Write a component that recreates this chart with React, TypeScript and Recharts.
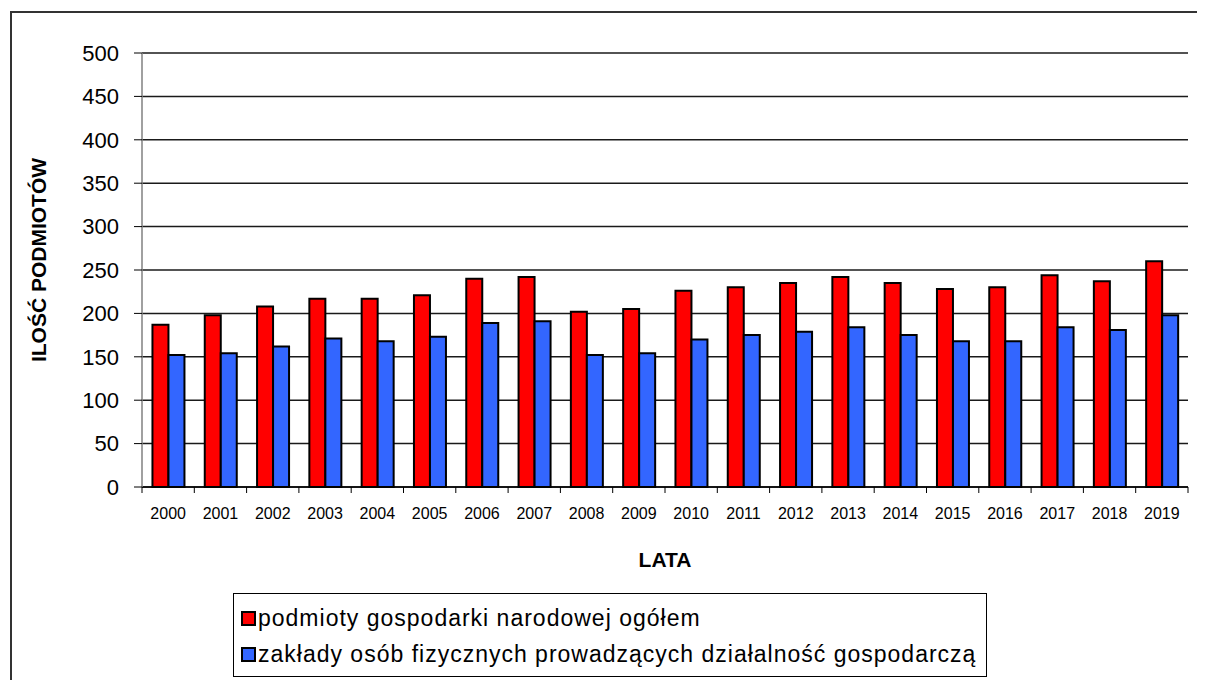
import React from 'react';
import { BarChart, Bar, XAxis, YAxis, CartesianGrid, Legend } from 'recharts';

const years = ['2000', '2001', '2002', '2003', '2004', '2005', '2006', '2007', '2008', '2009',
    '2010', '2011', '2012', '2013', '2014', '2015', '2016', '2017', '2018', '2019'];
const podmioty = [187, 198, 208, 217, 217, 221, 240, 242, 202, 205, 226, 230, 235, 242, 235, 228, 230, 244, 237, 260];
const zaklady = [152, 154, 162, 171, 168, 173, 189, 191, 152, 154, 170, 175, 179, 184, 175, 168, 168, 184, 181, 198];
const yTicks = [0, 50, 100, 150, 200, 250, 300, 350, 400, 450, 500];

const seriesNames = {
    podmioty: 'podmioty gospodarki narodowej ogółem',
    zaklady: 'zakłady osób fizycznych prowadzących działalność gospodarczą',
};

const FONT = 'Arial, "Liberation Sans", sans-serif';
const CHART_W = 1189;
const CHART_H = 672;
const MARGIN = { top: 45, right: 9, left: 0, bottom: 93 };
const YAXIS_W = 134;
const BAND = (CHART_W - MARGIN.left - MARGIN.right - YAXIS_W) / years.length;

const data = years.map((y, i) => ({ year: y, podmioty: podmioty[i], zaklady: zaklady[i] }));

// excel style: ticks sit between the categories, not under them
const YearTick = (props: any) => {
    const { x, y, payload, index } = props;
    const last = index === years.length - 1;
    return (
        <g>
            <line x1={x - BAND / 2} x2={x - BAND / 2} y1={y} y2={y + 6} stroke="#000" strokeWidth={1} />
            {last && <line x1={x + BAND / 2} x2={x + BAND / 2} y1={y} y2={y + 6} stroke="#000" strokeWidth={1} />}
            <text x={x} y={y + 21} dy="0.71em" textAnchor="middle" fontSize={16} fontFamily={FONT} fill="#000">
                {payload.value}
            </text>
        </g>
    );
};

const LegendBox = (props: any) => {
    const items = props.payload || [];
    return (
        <div style={{ border: '1px solid #000', background: '#fff', padding: '6px 0 6px 7px', boxSizing: 'border-box', height: 84 }}>
            {items.map((it: any) => (
                <div key={it.value} style={{ display: 'flex', alignItems: 'center', height: 36, fontFamily: FONT, fontSize: 23, letterSpacing: 1, color: '#000', whiteSpace: 'nowrap' }}>
                    <span style={{ width: 11, height: 11, border: '2px solid #000', background: it.color, marginRight: 2, display: 'inline-block', flexShrink: 0 }} />
                    {it.value}
                </div>
            ))}
        </div>
    );
};

export default function App() {
    return (
        <div style={{ position: 'relative', width: CHART_W, height: CHART_H, background: '#fff' }}>
            <div style={{ position: 'absolute', left: 2, top: 3, width: 1200, height: 680, borderLeft: '2px solid #333', borderTop: '2px solid #333', pointerEvents: 'none' }} />
            <BarChart width={CHART_W} height={CHART_H} data={data} margin={MARGIN} barCategoryGap="20%" barGap={0}>
                <CartesianGrid vertical={false} stroke="#1a1a1a" strokeWidth={1.5} />
                <XAxis
                    dataKey="year"
                    height={100}
                    axisLine={{ stroke: '#000', strokeWidth: 1.5 }}
                    tickLine={false}
                    tickSize={0}
                    tickMargin={0}
                    interval={0}
                    tick={<YearTick />}
                    label={(p: any) => (
                        <text x={p.viewBox.x + p.viewBox.width / 2} y={p.viewBox.y + 72} textAnchor="middle" dominantBaseline="central"
                            fontFamily={FONT} fontSize={21} fontWeight="bold" fill="#000">LATA</text>
                    )}
                />
                <YAxis
                    width={YAXIS_W}
                    domain={[0, 500]}
                    ticks={yTicks}
                    interval={0}
                    axisLine={{ stroke: '#808080', strokeWidth: 1.5 }}
                    tickLine={{ stroke: '#000' }}
                    tickSize={8}
                    tickMargin={15}
                    tick={{ fontSize: 22, fontFamily: FONT, fill: '#000' }}
                    label={() => (
                        <text x={30} y={252} textAnchor="middle" dominantBaseline="central" transform="rotate(-90 30 252)"
                            fontFamily={FONT} fontSize={21} fontWeight="bold" fill="#000">ILOŚĆ PODMIOTÓW</text>
                    )}
                />
                <Legend
                    layout="vertical"
                    align="center"
                    verticalAlign="middle"
                    content={<LegendBox />}
                    wrapperStyle={{ left: 225, top: 585, width: 754, height: 84 }}
                />
                <Bar dataKey="podmioty" name={seriesNames.podmioty} fill="#ff0000" stroke="#000" strokeWidth={2} isAnimationActive={false} />
                <Bar dataKey="zaklady" name={seriesNames.zaklady} fill="#3366ff" stroke="#000" strokeWidth={2} isAnimationActive={false} />
            </BarChart>
        </div>
    );
}
